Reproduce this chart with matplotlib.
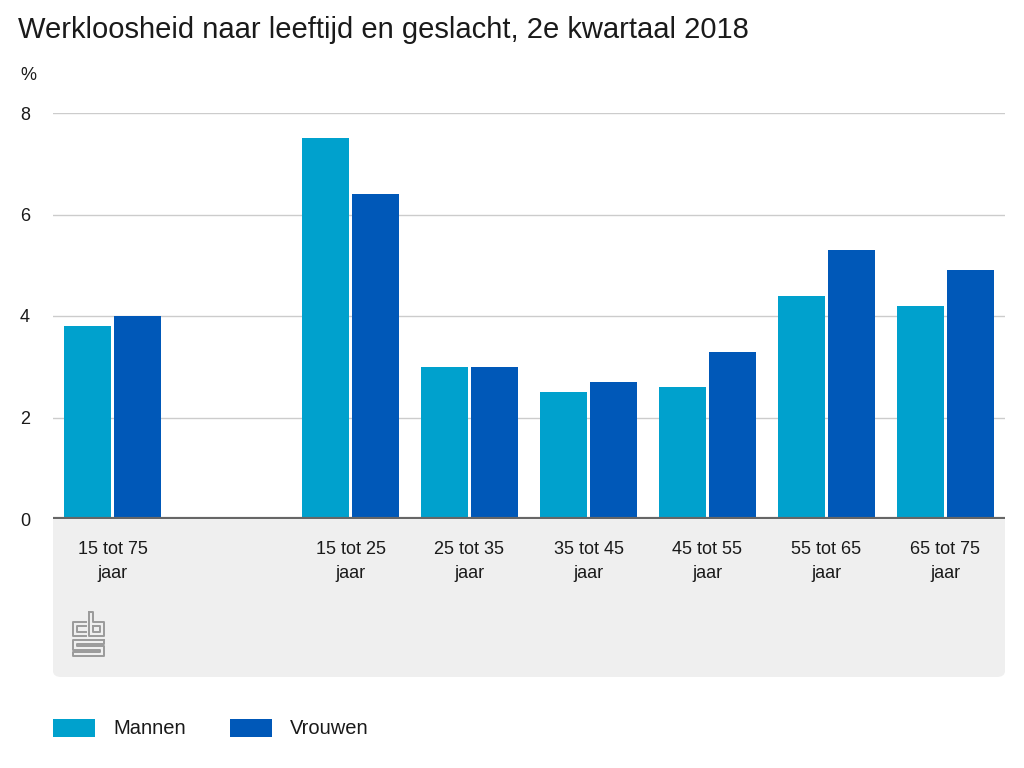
import numpy as np
import matplotlib
matplotlib.use('Agg')
import matplotlib.pyplot as plt
from matplotlib.patches import FancyBboxPatch, Rectangle
from matplotlib.lines import Line2D

plt.rcParams['font.family'] = ['Liberation Sans', 'DejaVu Sans']

# Data
categories = ['15 tot 75\njaar', '15 tot 25\njaar', '25 tot 35\njaar', '35 tot 45\njaar',
              '45 tot 55\njaar', '55 tot 65\njaar', '65 tot 75\njaar']
positions = [0, 2, 3, 4, 5, 6, 7]
mannen = [3.8, 7.5, 3.0, 2.5, 2.6, 4.4, 4.2]
vrouwen = [4.0, 6.4, 3.0, 2.7, 3.3, 5.3, 4.9]
yticks = [0, 2, 4, 6, 8]

c_man = '#00a1cd'
c_vrouw = '#0058b8'
txt = '#1a1a1a'

W, H = 1024, 768
fig = plt.figure(figsize=(W / 100, H / 100), dpi=100)

def fx(px):
    return px / W

def fy(py):
    return 1 - py / H

# axes: x 53..1005, y 113..519
ax = fig.add_axes([fx(53), fy(519), fx(1005) - fx(53), fy(113) - fy(519)])

# gray label panel under the axis
panel = FancyBboxPatch((fx(53), fy(677)), fx(1005) - fx(53), fy(500) - fy(677),
                       boxstyle='round,pad=0,rounding_size=0.008',
                       transform=fig.transFigure, facecolor='#efefef',
                       edgecolor='none', zorder=-1)
fig.add_artist(panel)

x = np.array(positions, dtype=float)
bw = 0.39
ax.bar(x - 0.21, mannen, bw, color=c_man, zorder=3)
ax.bar(x + 0.21, vrouwen, bw, color=c_vrouw, zorder=3)

ax.set_xlim(-0.5, 7.5)
ax.set_ylim(0, 8)
ax.set_yticks(yticks)
ax.set_yticklabels([])
for v in yticks[1:]:
    ax.axhline(v, color='#cccccc', lw=1, zorder=1)
ax.axhline(0, color='#666666', lw=3, zorder=4)

for s in ax.spines.values():
    s.set_visible(False)
ax.tick_params(length=0)
ax.set_xticks(x)
ax.set_xticklabels(categories, fontsize=13, color=txt, linespacing=1.55)
ax.tick_params(axis='x', pad=16)

# y tick labels left aligned at x=20
for v in yticks:
    py = 519 - v * (519 - 113) / 8
    fig.text(fx(20), fy(py + 2), str(v), fontsize=13, color=txt, ha='left', va='center')
fig.text(fx(20), fy(75), '%', fontsize=13, color=txt, ha='left', va='center')

fig.text(fx(18), fy(30), 'Werkloosheid naar leeftijd en geslacht, 2e kwartaal 2018',
         fontsize=21, color=txt, ha='left', va='center')

# legend
fig.add_artist(Rectangle((fx(53), fy(737)), fx(42), fy(0) - fy(18), transform=fig.transFigure,
                         facecolor=c_man, edgecolor='none'))
fig.text(fx(113), fy(728), 'Mannen', fontsize=14.5, color=txt, ha='left', va='center')
fig.add_artist(Rectangle((fx(230), fy(737)), fx(42), fy(0) - fy(18), transform=fig.transFigure,
                         facecolor=c_vrouw, edgecolor='none'))
fig.text(fx(290), fy(728), 'Vrouwen', fontsize=14.5, color=txt, ha='left', va='center')

# cbs logo (rough line drawing)
logo = [
    # c
    [(86, 622), (73, 622), (73, 636), (86, 636)],
    [(86, 626), (77, 626), (77, 632), (86, 632)],
    # b
    [(89, 612), (89, 636), (104, 636), (104, 622), (93, 622), (93, 612), (89, 612)],
    [(93, 626), (100, 626), (100, 632), (93, 632), (93, 626)],
    # S
    [(104, 640), (73, 640), (73, 650), (100, 650), (100, 652), (73, 652), (73, 656), (104, 656),
     (104, 646), (77, 646), (77, 644), (104, 644), (104, 640)],
]
for path in logo:
    xs = [fx(p[0]) for p in path]
    ys = [fy(p[1]) for p in path]
    fig.add_artist(Line2D(xs, ys, transform=fig.transFigure, color='#9a9a9a', lw=1.4))

fig.savefig('out.png', dpi=100)
